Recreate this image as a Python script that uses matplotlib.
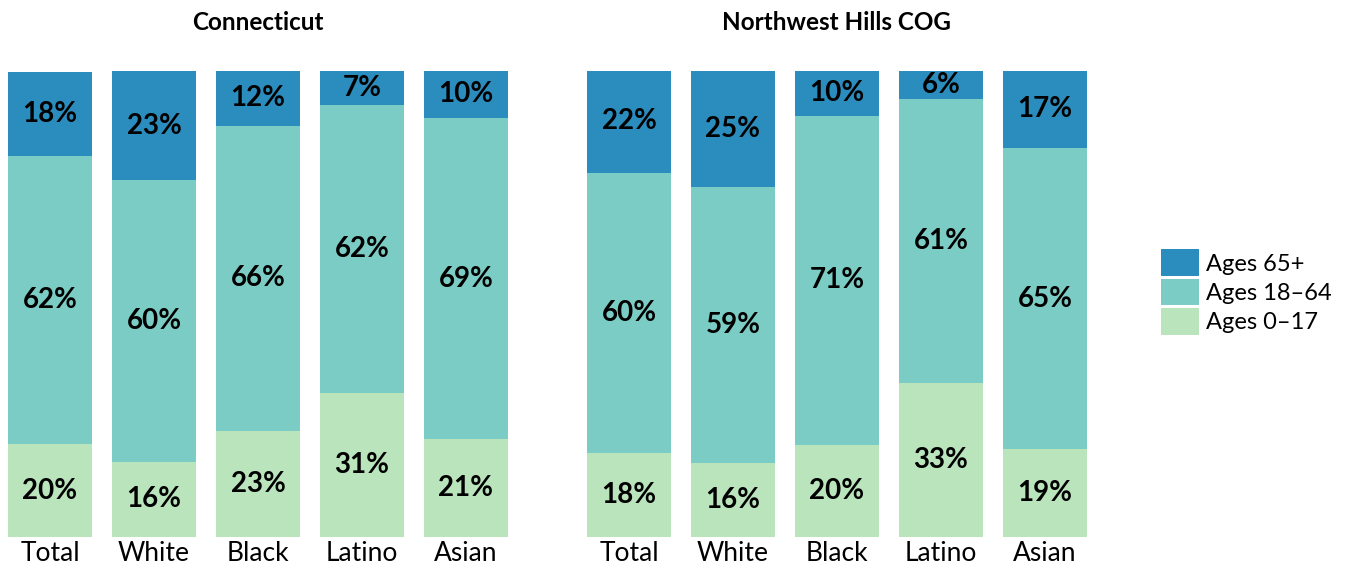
import numpy as np
import matplotlib
matplotlib.use('agg')
from matplotlib import pyplot as plt, rcParams
from matplotlib.patches import Patch

rcParams['font.family'] = ['Lato', 'DejaVu Sans']

groups = ['Total', 'White', 'Black', 'Latino', 'Asian']
regions = ['Connecticut', 'Northwest Hills COG']
series = ['Ages 0\u201317', 'Ages 18\u201364', 'Ages 65+']
colors = ['#bae4bc', '#7bccc4', '#2b8cbe']

# percent values per group, per region
ct_0_17 = [19.8, 16.1, 22.7, 30.9, 21.0]
ct_18_64 = [62.0, 60.4, 65.5, 61.8, 68.8]
ct_65 = [18.0, 23.4, 11.9, 7.2, 10.2]

nw_0_17 = [18.0, 15.8, 19.7, 33.0, 18.8]
nw_18_64 = [60.1, 59.2, 70.6, 60.9, 64.6]
nw_65 = [22.1, 25.1, 9.8, 6.0, 16.8]

data = [[ct_0_17, ct_18_64, ct_65], [nw_0_17, nw_18_64, nw_65]]

W, H = 1348, 566
fig = plt.figure(figsize=(W / 100, H / 100), dpi=100)

bot = (H - 536.7) / H
hgt = 466 / H
lefts = [8, 587]

x = np.arange(len(groups))
bw = 84 / 104

for k, region in enumerate(regions):
    ax = fig.add_axes([lefts[k] / W, bot, 500 / W, hgt])
    bottom = np.zeros(len(groups))
    for s in range(3):
        vals = np.array(data[k][s])
        ax.bar(x, vals, bw, bottom=bottom, color=colors[s], linewidth=0)
        for i, v in enumerate(vals):
            ax.text(x[i], bottom[i] + v / 2, '%d%%' % round(v), ha='center', va='center',
                    fontsize=20, fontweight='bold', color='black')
        bottom += vals
    ax.set_xlim(-0.5 * bw, len(groups) - 1 + 0.5 * bw)
    ax.set_ylim(0, 100)
    ax.set_xticks(x)
    ax.set_xticklabels(groups, fontsize=19)
    ax.tick_params(axis='x', length=0, pad=3)
    ax.set_yticks([])
    for sp in ax.spines.values():
        sp.set_visible(False)
    ax.text(0.5, 1 + (70.7 - 22) / 466, region, transform=ax.transAxes, ha='center',
            va='center', fontsize=17.5, fontweight='bold')

handles = [Patch(facecolor=colors[s], label=series[s]) for s in [2, 1, 0]]
fig.legend(handles=handles, loc='center left', bbox_to_anchor=(1161 / W, 1 - 292 / H),
           frameon=False, fontsize=17, handlelength=1.61, handleheight=1.38,
           labelspacing=0.1, handletextpad=0.3, borderpad=0, borderaxespad=0)

fig.savefig('out.png', dpi=100)
